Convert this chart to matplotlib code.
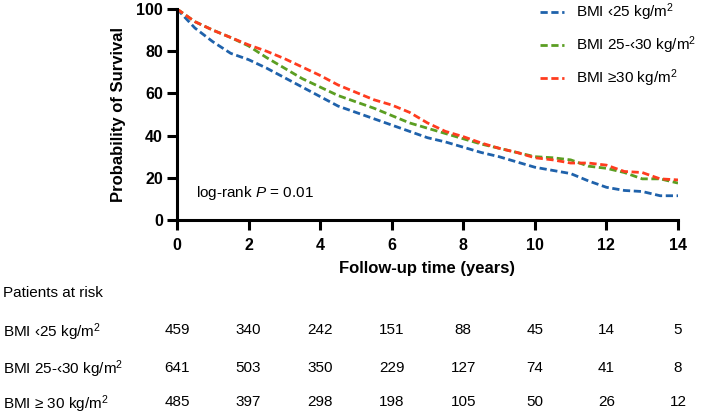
import numpy as np
import matplotlib.pyplot as plt

plt.rcParams['font.family'] = ['Liberation Sans', 'DejaVu Sans']
plt.rcParams['mathtext.fontset'] = 'custom'
plt.rcParams['mathtext.rm'] = 'Liberation Sans'
plt.rcParams['mathtext.it'] = 'Liberation Sans:italic'
plt.rcParams['mathtext.bf'] = 'Liberation Sans:bold'

# survival estimates, every half year
years = np.arange(0, 14.5, 0.5)
surv_low = [100, 91, 84.5, 79, 76, 72, 67.5, 63, 58.5, 54, 51, 48, 45, 42, 39,
            37, 34.5, 32, 30, 27.5, 25, 23.5, 22, 18.5, 15.5, 14, 13.5, 11.5, 11.5]
surv_mid = [100, 94, 90, 86.5, 82.5, 77, 72, 67, 63, 59, 56, 53, 49.5, 46, 43.5,
            41, 38.5, 36, 34, 32, 30, 29.5, 28.5, 25.5, 24.5, 22.5, 19.5, 19.5, 17.5]
surv_high = [100, 94, 90, 86.5, 83, 80, 76.5, 72.5, 68.5, 64, 60.5, 57, 54.5, 51, 46,
             42, 39.5, 36.5, 34, 32, 29.5, 28.5, 27, 27, 26, 23, 22.5, 19.5, 19]

legend_labels = ['BMI \u203925 kg/m$^2$', 'BMI 25-\u203930 kg/m$^2$', 'BMI \u226530 kg/m$^2$']
colors = ['#1f62ab', '#5b9e22', '#ff3c1f']

risk_times = [0, 2, 4, 6, 8, 10, 12, 14]
risk_labels = ['BMI \u203925 kg/m$^2$', 'BMI 25-\u203930 kg/m$^2$', 'BMI \u2265 30 kg/m$^2$']
risk_low = [459, 340, 242, 151, 88, 45, 14, 5]
risk_mid = [641, 503, 350, 229, 127, 74, 41, 8]
risk_high = [485, 397, 298, 198, 105, 50, 26, 12]

W, H = 709, 416
fig = plt.figure(figsize=(W / 100, H / 100), dpi=100)
ax = fig.add_axes([177 / W, 1 - 220 / H, 501 / W, 211 / H])

handles = []
for s, c in zip([surv_low, surv_mid, surv_high], colors):
    h, = ax.plot(years, s, color=c, lw=2, linestyle=(0, (2.6, 1.3)))
    handles.append(h)

ax.set_xlim(0, 14)
ax.set_ylim(0, 100)
ax.set_xticks(risk_times)
ax.set_yticks([0, 20, 40, 60, 80, 100])
for side in ['top', 'right']:
    ax.spines[side].set_visible(False)
for side in ['left', 'bottom']:
    ax.spines[side].set_linewidth(2.2)
ax.tick_params(axis='both', width=2.2, length=7, labelsize=11.5)
ax.tick_params(axis='x', pad=6)
ax.tick_params(axis='y', pad=3)
for lbl in ax.get_xticklabels() + ax.get_yticklabels():
    lbl.set_fontweight('bold')

ax.text(0.53, 12.8, 'log-rank $\\it{P}$ = 0.01', fontsize=11, va='center', ha='left')

fig.text(118 / W, 1 - 114.5 / H, 'Probability of Survival', rotation=90,
         ha='center', va='center', fontsize=12, fontweight='bold')
fig.text(427.5 / W, 1 - 269 / H, 'Follow-up time (years)',
         ha='center', va='center', fontsize=12, fontweight='bold')

fig.legend(handles, legend_labels, loc='upper left', bbox_to_anchor=(538 / W, 1.0),
           frameon=False, fontsize=11, handlelength=1.6, handletextpad=0.8,
           labelspacing=0.75, borderpad=0.1, borderaxespad=0)

# numbers at risk table
fig.text(3 / W, 1 - 293 / H, 'Patients at risk', fontsize=11, va='center', ha='left')
row_y = [329, 366, 401]
for lab, vals, y in zip(risk_labels, [risk_low, risk_mid, risk_high], row_y):
    fig.text(3 / W, 1 - y / H, lab, fontsize=11, va='center_baseline', ha='left')
    for t, v in zip(risk_times, vals):
        xf = ax.transData.transform((t, 0))[0] / W
        fig.text(xf, 1 - y / H, str(v), fontsize=11, va='center_baseline', ha='center')

fig.savefig('out.png', dpi=100)
